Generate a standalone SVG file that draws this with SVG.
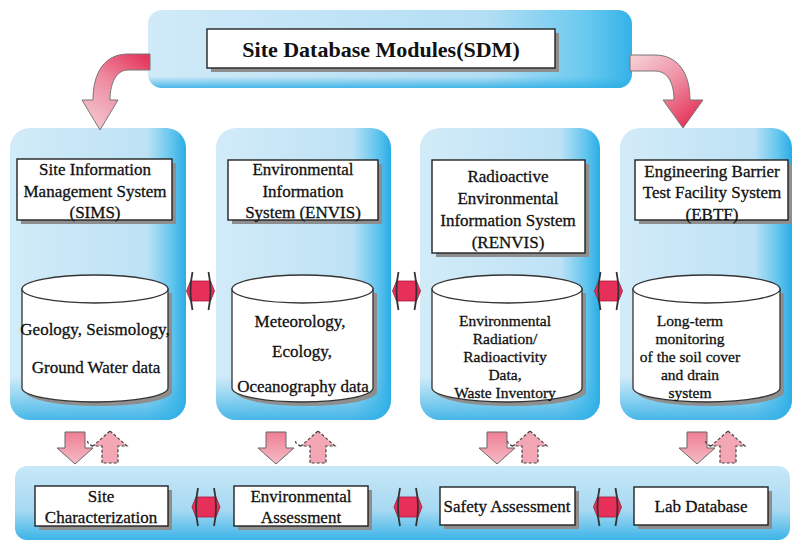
<svg xmlns="http://www.w3.org/2000/svg" xmlns:xlink="http://www.w3.org/1999/xlink" width="793" height="543" viewBox="0 0 793 543">
  <style>
    .t { font-family: "Liberation Serif", "Times New Roman", serif; font-size: 17px; fill: #111; text-anchor: middle; stroke: #111; stroke-width: 0.3; }
    .s { font-size: 15.5px; }
    .title { font-family: "Liberation Serif", "Times New Roman", serif; font-size: 22px; font-weight: bold; fill: #111; text-anchor: middle; }
    .box { fill: #fff; stroke: #222; stroke-width: 1.4; }
    .shadow { fill: #8e8e8e; }
    .cyl { fill: #fff; stroke: #333; stroke-width: 1.3; }
    .panel { fill: url(#panelGrad); }
    .panelEdge { fill: url(#panelBottom); }
  </style>
  <defs>
    <linearGradient id="panelGrad" x1="0" y1="0" x2="1" y2="0">
      <stop offset="0" stop-color="#d2ebf8"/>
      <stop offset="0.78" stop-color="#bde2f5"/>
      <stop offset="0.92" stop-color="#62c5ee"/>
      <stop offset="1" stop-color="#2aace4"/>
    </linearGradient>
    <linearGradient id="panelBottom" x1="0" y1="0" x2="0" y2="1">
      <stop offset="0.85" stop-color="#3ab4e8" stop-opacity="0"/>
      <stop offset="1" stop-color="#2eaee5" stop-opacity="0.85"/>
    </linearGradient>
    <linearGradient id="bannerGrad" x1="0" y1="0" x2="1" y2="0">
      <stop offset="0" stop-color="#d0eaf8"/>
      <stop offset="0.7" stop-color="#b3def4"/>
      <stop offset="0.9" stop-color="#6ccaf0"/>
      <stop offset="1" stop-color="#34b2e7"/>
    </linearGradient>
    <linearGradient id="bandGrad" x1="0" y1="0" x2="0" y2="1">
      <stop offset="0" stop-color="#c9e8f7"/>
      <stop offset="0.6" stop-color="#a6d9f2"/>
      <stop offset="1" stop-color="#3cb4e8"/>
    </linearGradient>
    <linearGradient id="leftCurve" x1="150" y1="60" x2="100" y2="130" gradientUnits="userSpaceOnUse">
      <stop offset="0" stop-color="#e5365d"/>
      <stop offset="0.5" stop-color="#ee8ea2"/>
      <stop offset="1" stop-color="#f4c4cc"/>
    </linearGradient>
    <linearGradient id="rightCurve" x1="630" y1="62" x2="683" y2="128" gradientUnits="userSpaceOnUse">
      <stop offset="0" stop-color="#f6ccd3"/>
      <stop offset="0.5" stop-color="#ee8ea2"/>
      <stop offset="1" stop-color="#e5365d"/>
    </linearGradient>
    <linearGradient id="pinkV" x1="0" y1="0" x2="0" y2="1">
      <stop offset="0" stop-color="#ee7e94"/>
      <stop offset="1" stop-color="#f6bcc6"/>
    </linearGradient>
    <!-- solid downward arrow -->
    <path id="down" d="M-10,432 L10,432 L10,448 L18,448 L0,464 L-18,448 L-10,448 Z" fill="url(#pinkV)" stroke="#666" stroke-width="1"/>
    <!-- dashed upward arrow -->
    <g id="up">
      <path d="M0,431 L17,446 L8,446 L8,463 L-8,463 L-8,446 L-17,446 Z" fill="#f3a7b4" stroke="#444" stroke-width="1.2" stroke-dasharray="3 2"/>
      <path d="M-17,446 Q-24,444 -22,439" fill="none" stroke="#444" stroke-width="1.2" stroke-dasharray="3 2"/>
    </g>
    <!-- left-right double arrow -->
    <g id="lr">
      <path d="M-14,0 L-10,-10 L10,-10 L14,0 L10,10 L-10,10 Z" fill="#e6305a" stroke="#a8183c" stroke-width="0.8"/>
      <path d="M-8,-19 Q-12,0 -8,19 M8,-19 Q12,0 8,19" fill="none" stroke="#333" stroke-width="1.8"/>
    </g>
  </defs>

  <rect width="793" height="543" fill="#ffffff"/>

  <!-- top banner: Site Database Modules -->
  <g id="sdm">
    <rect x="148" y="10" width="484" height="78" rx="14" fill="url(#bannerGrad)"/>
    <rect x="148" y="10" width="484" height="78" rx="14" class="panelEdge"/>
    <rect x="211" y="33" width="348" height="39" class="shadow"/>
    <rect x="207" y="29" width="348" height="39" class="box"/>
    <text x="381" y="57" class="title">Site Database Modules(SDM)</text>
  </g>

  <!-- column 1: SIMS -->
  <g id="sims">
    <rect x="10" y="128" width="176" height="292" rx="20" class="panel"/>
    <rect x="10" y="128" width="176" height="292" rx="20" class="panelEdge"/>
    <rect x="21" y="163" width="155" height="61" class="shadow"/>
    <rect x="17" y="159" width="155" height="61" class="box"/>
    <text x="95" y="175" class="t">Site Information</text>
    <text x="95" y="197" class="t">Management System</text>
    <text x="95" y="218" class="t">(SIMS)</text>
    <path d="M26,293 L26,392 A73,14 0 0 0 172,392 L172,293 Z" class="shadow"/>
    <path d="M22,289 L22,388 A73,14 0 0 0 168,388 L168,289 Z" class="cyl"/>
    <ellipse cx="95" cy="289" rx="73" ry="14" class="cyl"/>
    <text x="95" y="335" class="t">Geology, Seismology,</text>
    <text x="96" y="373" class="t">Ground Water data</text>
  </g>

  <!-- column 2: ENVIS -->
  <g id="envis">
    <rect x="216" y="128" width="175" height="292" rx="20" class="panel"/>
    <rect x="216" y="128" width="175" height="292" rx="20" class="panelEdge"/>
    <rect x="232" y="164" width="150" height="60" class="shadow"/>
    <rect x="228" y="160" width="150" height="60" class="box"/>
    <text x="303" y="175" class="t">Environmental</text>
    <text x="303" y="197" class="t">Information</text>
    <text x="303" y="218" class="t">System (ENVIS)</text>
    <path d="M236,293 L236,392 A70.5,14 0 0 0 377,392 L377,293 Z" class="shadow"/>
    <path d="M232,289 L232,388 A70.5,14 0 0 0 373,388 L373,289 Z" class="cyl"/>
    <ellipse cx="302.5" cy="289" rx="70.5" ry="14" class="cyl"/>
    <text x="300" y="327" class="t">Meteorology,</text>
    <text x="302" y="357" class="t">Ecology,</text>
    <text x="303" y="392" class="t">Oceanography data</text>
  </g>

  <!-- column 3: RENVIS -->
  <g id="renvis">
    <rect x="420" y="128" width="180" height="292" rx="20" class="panel"/>
    <rect x="420" y="128" width="180" height="292" rx="20" class="panelEdge"/>
    <rect x="436" y="164" width="153" height="93" class="shadow"/>
    <rect x="432" y="160" width="153" height="93" class="box"/>
    <text x="508" y="182" class="t">Radioactive</text>
    <text x="508" y="204" class="t">Environmental</text>
    <text x="508" y="226" class="t">Information System</text>
    <text x="508" y="248" class="t">(RENVIS)</text>
    <path d="M436,293 L436,392 A75,14 0 0 0 586,392 L586,293 Z" class="shadow"/>
    <path d="M432,289 L432,388 A75,14 0 0 0 582,388 L582,289 Z" class="cyl"/>
    <ellipse cx="507" cy="289" rx="75" ry="14" class="cyl"/>
    <text x="505" y="326" class="t s">Environmental</text>
    <text x="505" y="344" class="t s">Radiation/</text>
    <text x="505" y="362" class="t s">Radioactivity</text>
    <text x="505" y="380" class="t s">Data,</text>
    <text x="505" y="398" class="t s">Waste Inventory</text>
  </g>

  <!-- column 4: EBTF -->
  <g id="ebtf">
    <rect x="620" y="128" width="172" height="292" rx="20" class="panel"/>
    <rect x="620" y="128" width="172" height="292" rx="20" class="panelEdge"/>
    <rect x="639" y="164" width="153" height="60" class="shadow"/>
    <rect x="635" y="160" width="153" height="60" class="box"/>
    <text x="712" y="177" class="t">Engineering Barrier</text>
    <text x="712" y="198" class="t">Test Facility System</text>
    <text x="712" y="220" class="t">(EBTF)</text>
    <path d="M637,293 L637,392 A73.5,14 0 0 0 784,392 L784,293 Z" class="shadow"/>
    <path d="M633,289 L633,388 A73.5,14 0 0 0 780,388 L780,289 Z" class="cyl"/>
    <ellipse cx="706.5" cy="289" rx="73.5" ry="14" class="cyl"/>
    <text x="690" y="326" class="t s">Long-term</text>
    <text x="690" y="344" class="t s">monitoring</text>
    <text x="690" y="362" class="t s">of the soil cover</text>
    <text x="690" y="380" class="t s">and drain</text>
    <text x="690" y="398" class="t s">system</text>
  </g>

  <!-- bottom band of applications -->
  <g id="applications">
    <rect x="15" y="466" width="775" height="74" rx="12" fill="url(#bandGrad)"/>
  </g>
  <g id="site-characterization">
    <rect x="39" y="490" width="133" height="40" class="shadow"/>
    <rect x="35" y="486" width="133" height="40" class="box"/>
    <text x="101" y="502" class="t">Site</text>
    <text x="101" y="523" class="t">Characterization</text>
  </g>
  <g id="environmental-assessment">
    <rect x="238" y="490" width="134" height="40" class="shadow"/>
    <rect x="234" y="486" width="134" height="40" class="box"/>
    <text x="301" y="502" class="t">Environmental</text>
    <text x="301" y="523" class="t">Assessment</text>
  </g>
  <g id="safety-assessment">
    <rect x="444" y="491" width="135" height="38" class="shadow"/>
    <rect x="440" y="487" width="135" height="38" class="box"/>
    <text x="507" y="512" class="t">Safety Assessment</text>
  </g>
  <g id="lab-database">
    <rect x="638" y="491" width="134" height="38" class="shadow"/>
    <rect x="634" y="487" width="134" height="38" class="box"/>
    <text x="701" y="512" class="t">Lab Database</text>
  </g>

  <!-- connectors -->
  <g id="connectors">
    <!-- SDM to SIMS and EBTF -->
    <path d="M150,54 L128,54 C105,54 93,72 93,100 L82,100 L100,130 L118,100 L110,100 C110,82 117,70 128,70 L150,70 Z" fill="url(#leftCurve)" stroke="#777" stroke-width="1"/>
    <path d="M630,55 L655,55 C677,55 690,72 690,100 L703,100 L683,128 L663,100 L674,100 C674,82 667,71 655,71 L630,71 Z" fill="url(#rightCurve)" stroke="#777" stroke-width="1"/>

    <!-- exchanges between systems -->
    <use xlink:href="#lr" x="200.5" y="291"/>
    <use xlink:href="#lr" x="406.5" y="291"/>
    <use xlink:href="#lr" x="608.5" y="291"/>

    <!-- exchanges between applications -->
    <use xlink:href="#lr" x="206" y="507"/>
    <use xlink:href="#lr" x="408" y="507"/>
    <use xlink:href="#lr" x="607.5" y="507"/>

    <!-- systems to applications and back -->
    <use xlink:href="#down" x="75" y="0"/>
    <use xlink:href="#up" x="110" y="0"/>
    <use xlink:href="#down" x="276" y="0"/>
    <use xlink:href="#up" x="318" y="0"/>
    <use xlink:href="#down" x="497" y="0"/>
    <use xlink:href="#up" x="530" y="0"/>
    <use xlink:href="#down" x="697" y="0"/>
    <use xlink:href="#up" x="728" y="0"/>
  </g>
</svg>
